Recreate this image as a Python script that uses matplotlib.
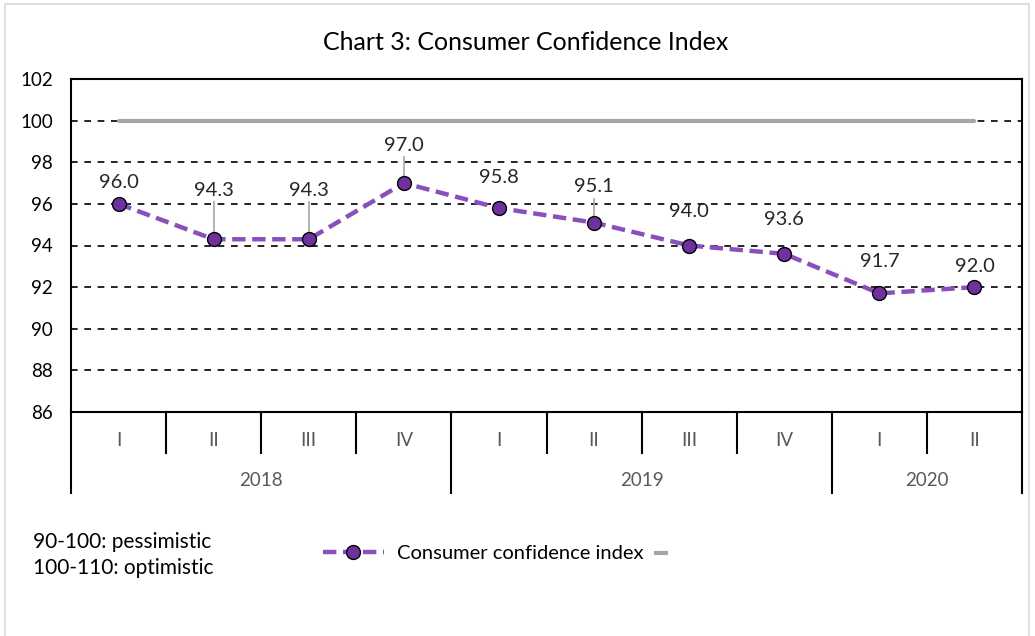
import matplotlib
matplotlib.use("Agg")
import matplotlib.pyplot as plt
from matplotlib.lines import Line2D
from matplotlib.patches import Rectangle

# ---- data ----
quarters = ["I", "II", "III", "IV", "I", "II", "III", "IV", "I", "II"]
years = ["2018", "2019", "2020"]
year_counts = [4, 4, 2]
cci = [96.0, 94.3, 94.3, 97.0, 95.8, 95.1, 94.0, 93.6, 91.7, 92.0]
threshold = [100] * len(cci)
# label styling: offset above point (px) and whether a leader line is drawn
label_offset_px = [21, 49, 49, 38, 31, 36, 34, 34, 32, 21]
leader = [False, True, True, True, False, True, False, False, False, False]

plt.rcParams['font.family'] = ['Lato', 'DejaVu Sans']

W, H = 1035, 636
fig = plt.figure(figsize=(W / 100, H / 100), dpi=100)
fig.patches.append(Rectangle((5 / W, -0.01), (1029 - 5) / W, (636 - 4) / H + 0.01,
                             transform=fig.transFigure, fill=False,
                             edgecolor="#d9d9d9", linewidth=1.2))

L, R, T, B = 71, 1022, 79, 412
ax = fig.add_axes([L / W, 1 - B / H, (R - L) / W, (B - T) / H])
n = len(cci)
x = list(range(n))
ax.set_xlim(-0.5, n - 0.5)
ax.set_ylim(86, 102)
ax.set_yticks(range(86, 103, 2))
ax.tick_params(axis='y', length=0, pad=13, labelsize=13.5, labelcolor="#000000")
ax.set_xticks([])
for yv in range(88, 103, 2):
    ax.axhline(yv, color="black", linewidth=1.2, linestyle=(0, (4, 4)), zorder=1)
for s in ax.spines.values():
    s.set_linewidth(1.5)
    s.set_color("black")

ax.plot(x, threshold, color="#a6a6a6", linewidth=3, solid_capstyle='round', zorder=2)
ax.plot(x, cci, color="#8a4fbf", linewidth=3.2, linestyle=(0, (3, 1.5)),
        marker="o", markersize=10, markerfacecolor="#7030a0",
        markeredgecolor="black", markeredgewidth=1.0, zorder=3)

px_per_unit = (B - T) / 16.0
for i, v in enumerate(cci):
    off = label_offset_px[i]
    ax.annotate(f"{v:.1f}", (i, v), xytext=(0, off * 0.72), textcoords="offset points",
                ha="center", va="center", fontsize=14.5, color="#262626", zorder=4)
    if leader[i]:
        top = v + (off - 12) / px_per_unit
        bot = v + 7 / px_per_unit
        ax.plot([i, i], [bot, top], color="#a6a6a6", linewidth=1.2, zorder=2)

# category axis
trans = ax.get_xaxis_transform()
short = -(453 - B) / (B - T)
long_ = -(493 - B) / (B - T)
boundaries = [0]
c = 0
for cnt in year_counts:
    c += cnt
    boundaries.append(c)
for k in range(n + 1):
    yb = long_ if k in boundaries else short
    ax.plot([k - 0.5, k - 0.5], [0, yb], transform=trans, color="black",
            linewidth=1.5, clip_on=False)
for i, q in enumerate(quarters):
    ax.text(i, -(440 - B) / (B - T), q, transform=trans, ha="center", va="center",
            fontsize=13.5, color="#595959")
start = 0
for yr, cnt in zip(years, year_counts):
    ax.text(start + (cnt - 1) / 2, -(481 - B) / (B - T), yr, transform=trans,
            ha="center", va="center", fontsize=13.5, color="#595959")
    start += cnt

fig.text(526 / W, 1 - 43 / H, "Chart 3: Consumer Confidence Index", ha="center",
         va="center", fontsize=18, color="black")
fig.text(33 / W, 1 - 542 / H, "90-100: pessimistic", ha="left", va="center",
         fontsize=15, color="black")
fig.text(33 / W, 1 - 568 / H, "100-110: optimistic", ha="left", va="center",
         fontsize=15, color="black")

h1 = Line2D([], [], color="#8a4fbf", linewidth=3.2, linestyle=(0, (3, 1.5)),
            marker="o", markersize=10, markerfacecolor="#7030a0",
            markeredgecolor="black", markeredgewidth=1.0)
fig.legend([h1], ["Consumer confidence index"], loc="center left",
           bbox_to_anchor=(307 / W, 1 - 553 / H), frameon=False,
           fontsize=14.5, handlelength=3.0, handletextpad=0.65, borderpad=0.3)
# second (unlabelled) legend entry: short grey dash
fig.add_artist(Line2D([656 / W, 666 / W], [1 - 553 / H, 1 - 553 / H],
                      transform=fig.transFigure, color="#a6a6a6", linewidth=3))

fig.savefig("out.png", dpi=100)
